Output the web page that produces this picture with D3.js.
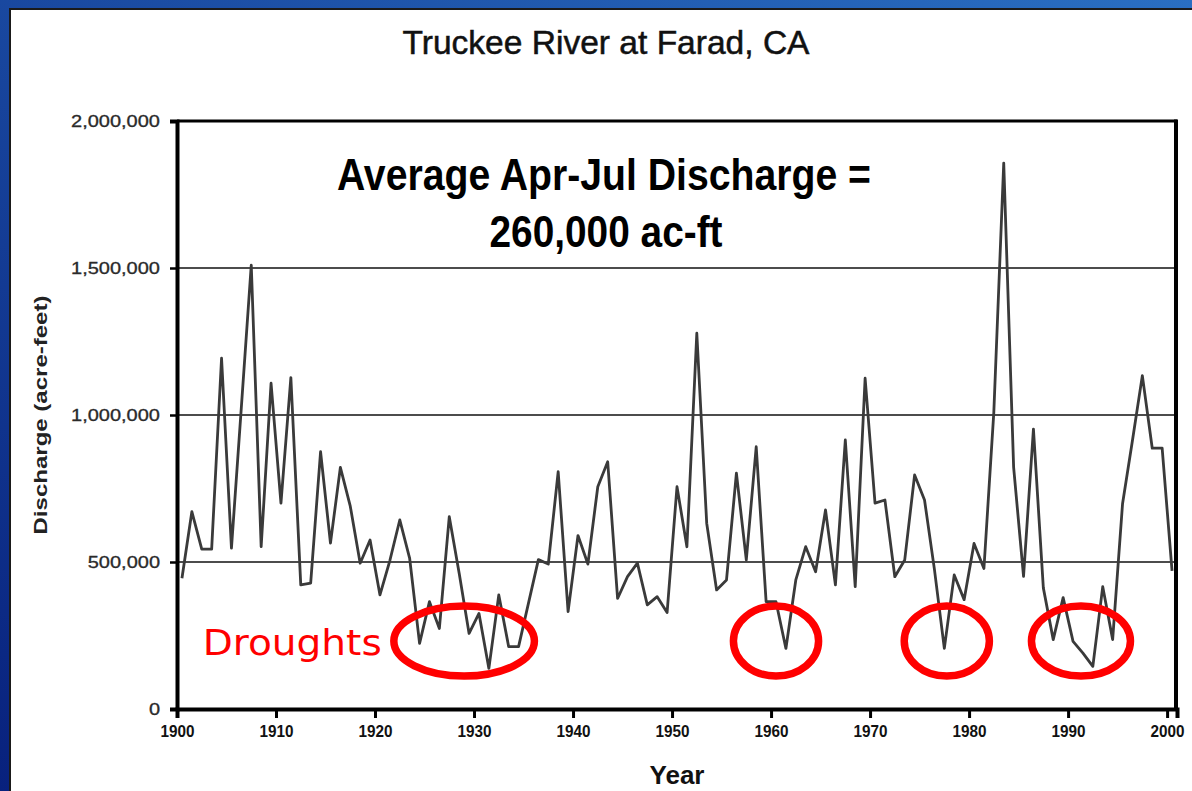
<!DOCTYPE html>
<html>
<head>
<meta charset="utf-8">
<script src="https://cdn.jsdelivr.net/npm/d3@7"></script>
<style>
  body { margin: 0; background: #0d2c8c; }
  svg { display: block; }
</style>
</head>
<body>
<div id="chart"></div>
<script>
// Apr-Jul discharge, Truckee River at Farad (acre-feet)
const years = d3.range(1900, 2001);
const discharge = [
  445000, 671000, 544000, 544000, 1193000, 547000, 1027000, 1510000, 552000, 1108000,
  700000, 1127000, 422000, 428000, 875000, 564000, 822000, 690000, 496000, 575000,
  388000, 505000, 643000, 512000, 223000, 365000, 274000, 654000, 462000, 257000,
  325000, 138000, 388000, 212000, 212000, 360000, 508000, 493000, 807000, 331000,
  590000, 493000, 756000, 841000, 376000, 450000, 496000, 354000, 382000, 328000,
  756000, 552000, 1278000, 632000, 405000, 439000, 802000, 507000, 892000, 365000,
  365000, 206000, 439000, 552000, 467000, 677000, 422000, 915000, 416000, 1125000,
  700000, 711000, 450000, 507000, 796000, 711000, 475000, 206000, 456000, 372000,
  563000, 478000, 1010000, 1857000, 822000, 451000, 952000, 412000, 236000, 379000,
  230000, 190000, 145000, 416000, 236000, 698000, 913000, 1134000, 887000, 887000,
  470000
];
const yTicks = [0, 500000, 1000000, 1500000, 2000000];
const gridTicks = [500000, 1000000, 1500000];
const xTicks = [1900, 1910, 1920, 1930, 1940, 1950, 1960, 1970, 1980, 1990, 2000];

// drought circles: centre year, half width in years
const droughtCentre = [1929.0, 1960.5, 1977.75, 1991.3];
const droughtHalf = [7.1, 4.3, 4.3, 5.0];
const droughtLevel = 231000;
const droughtHalfHeight = 119000;

const W = 1192, H = 791;
const margin = { top: 121, right: 15, bottom: 82, left: 177 };
const width = W - margin.left - margin.right;
const height = H - margin.top - margin.bottom;

const svg = d3.select("#chart").append("svg")
  .attr("width", W)
  .attr("height", H);

// blue slide background
const defs = svg.append("defs");
const grad = defs.append("linearGradient")
  .attr("id", "bg")
  .attr("x1", 0).attr("y1", 1).attr("x2", 1).attr("y2", 0);
grad.append("stop").attr("offset", "0%").attr("stop-color", "#08217d");
grad.append("stop").attr("offset", "100%").attr("stop-color", "#2a6fc2");

svg.append("rect")
  .attr("width", W).attr("height", H)
  .attr("fill", "url(#bg)");

svg.append("rect")
  .attr("x", 10).attr("y", 9)
  .attr("width", W).attr("height", H)
  .attr("fill", "#fff")
  .attr("stroke", "#1a1a1a")
  .attr("stroke-width", 2);

const sans = "'Liberation Sans', Arial, sans-serif";

svg.append("text")
  .attr("x", 606).attr("y", 54)
  .attr("text-anchor", "middle")
  .attr("font-family", sans)
  .attr("font-size", 33)
  .attr("fill", "#111")
  .attr("stroke", "#111")
  .attr("stroke-width", 0.5)
  .attr("textLength", 407)
  .attr("lengthAdjust", "spacingAndGlyphs")
  .text("Truckee River at Farad, CA");

const g = svg.append("g")
  .attr("transform", `translate(${margin.left},${margin.top})`);

const x = d3.scaleLinear()
  .domain([1900, 2001])
  .range([0, width]);

const y = d3.scaleLinear()
  .domain([0, 2000000])
  .range([height, 0]);

// gridlines
g.selectAll(".grid")
  .data(gridTicks)
  .join("line")
  .attr("x1", 0).attr("x2", width)
  .attr("y1", d => y(d)).attr("y2", d => y(d))
  .attr("stroke", "#111")
  .attr("stroke-width", 1.6);

// frame top + right
g.append("line")
  .attr("x1", 0).attr("x2", width)
  .attr("y1", 0).attr("y2", 0)
  .attr("stroke", "#000").attr("stroke-width", 3);
g.append("line")
  .attr("x1", width - 1).attr("x2", width - 1)
  .attr("y1", -1.5).attr("y2", height)
  .attr("stroke", "#000").attr("stroke-width", 4);

const line = d3.line()
  .x((d, i) => x(years[i] + 0.5))
  .y(d => y(d));

g.append("path")
  .datum(discharge)
  .attr("fill", "none")
  .attr("stroke", "#3a3a3a")
  .attr("stroke-width", 2.8)
  .attr("stroke-linejoin", "round")
  .attr("d", line);

// axes
const yAxis = g.append("g")
  .call(d3.axisLeft(y).tickValues(yTicks).tickFormat(d3.format(",")).tickSize(7).tickPadding(10));
yAxis.select(".domain").attr("stroke", "#000").attr("stroke-width", 4);
yAxis.selectAll(".tick line").attr("stroke", "#000").attr("stroke-width", 2.5);
yAxis.selectAll(".tick text")
  .attr("font-family", sans)
  .attr("font-size", 16)
  .attr("fill", "#2a2a2a")
  .attr("stroke", "#2a2a2a")
  .attr("stroke-width", 0.3)
  .each(function () {
    const w = this.getComputedTextLength();
    d3.select(this).attr("textLength", w * 1.25).attr("lengthAdjust", "spacingAndGlyphs");
  });

const xAxis = g.append("g")
  .attr("transform", `translate(0,${height})`)
  .call(d3.axisBottom(x).tickValues(xTicks).tickFormat(d3.format("d")).tickSize(9).tickPadding(7));
xAxis.select(".domain").attr("stroke", "#000").attr("stroke-width", 4);
xAxis.selectAll(".tick line").attr("stroke", "#000").attr("stroke-width", 3);
xAxis.selectAll(".tick text")
  .attr("font-family", sans)
  .attr("font-weight", "bold")
  .attr("font-size", 17)
  .attr("fill", "#111")
  .attr("textLength", 34)
  .attr("lengthAdjust", "spacingAndGlyphs");

// axis titles
svg.append("text")
  .attr("x", margin.left + width / 2).attr("y", 784)
  .attr("text-anchor", "middle")
  .attr("font-family", sans)
  .attr("font-weight", "bold")
  .attr("font-size", 25)
  .attr("fill", "#111")
  .attr("textLength", 55)
  .attr("lengthAdjust", "spacingAndGlyphs")
  .text("Year");

svg.append("text")
  .attr("transform", `translate(47,${margin.top + height / 2}) rotate(-90)`)
  .attr("text-anchor", "middle")
  .attr("font-family", sans)
  .attr("font-weight", "bold")
  .attr("font-size", 19)
  .attr("fill", "#222")
  .attr("textLength", 239)
  .attr("lengthAdjust", "spacingAndGlyphs")
  .text("Discharge (acre-feet)");

// annotation
const note = svg.append("text")
  .attr("text-anchor", "middle")
  .attr("font-family", sans)
  .attr("font-weight", "bold")
  .attr("font-size", 44)
  .attr("fill", "#000");
note.append("tspan")
  .attr("x", 604).attr("y", 190)
  .attr("textLength", 534)
  .attr("lengthAdjust", "spacingAndGlyphs")
  .text("Average Apr-Jul Discharge =");
note.append("tspan")
  .attr("x", 606).attr("y", 247)
  .attr("textLength", 233)
  .attr("lengthAdjust", "spacingAndGlyphs")
  .text("260,000 ac-ft");

// drought ellipses
g.selectAll(".drought")
  .data(droughtCentre)
  .join("ellipse")
  .attr("cx", d => x(d))
  .attr("cy", y(droughtLevel))
  .attr("rx", (d, i) => x(d + droughtHalf[i]) - x(d))
  .attr("ry", y(0) - y(droughtHalfHeight))
  .attr("fill", "none")
  .attr("stroke", "#ff0000")
  .attr("stroke-width", 7.5);

g.append("text")
  .attr("x", x(1902.6))
  .attr("y", y(184000))
  .attr("font-family", "'DejaVu Sans', Verdana, sans-serif")
  .attr("font-size", 36)
  .attr("fill", "#ff0000")
  .attr("textLength", 179)
  .attr("lengthAdjust", "spacingAndGlyphs")
  .text("Droughts");
</script>
</body>
</html>
